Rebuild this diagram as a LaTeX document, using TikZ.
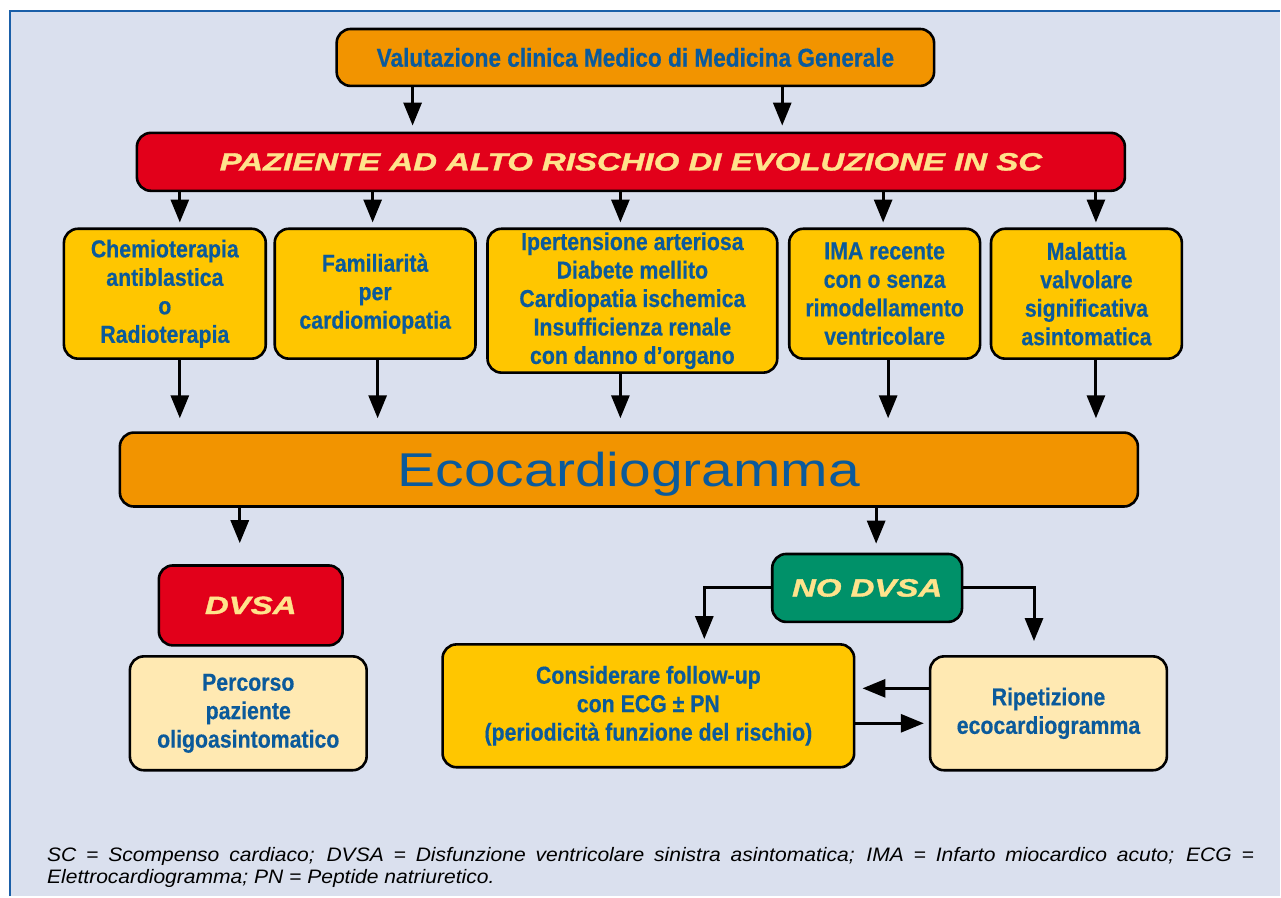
\documentclass[tikz,border=0pt]{standalone}
\usepackage{fontspec}
\setmainfont{Liberation Sans}
\newfontfamily\condfont[FakeStretch=0.87, FakeBold=0.4]{Liberation Sans}
\newfontfamily\widefont[FakeStretch=1.32, FakeBold=1.4]{Liberation Sans}
\newfontfamily\ecofont[FakeStretch=1.2]{Liberation Sans}
\newfontfamily\notefont[FakeStretch=1.08]{Liberation Sans}
\usetikzlibrary{arrows.meta}

\definecolor{bgblue}{HTML}{DAE0EE}
\definecolor{frameblue}{HTML}{1A5FA8}
\definecolor{boxorange}{HTML}{F29400}
\definecolor{boxyellow}{HTML}{FFC600}
\definecolor{boxpale}{HTML}{FFE9B2}
\definecolor{boxred}{HTML}{E2001A}
\definecolor{boxgreen}{HTML}{009169}
\definecolor{txtblue}{HTML}{0B5A9B}
\definecolor{txtyel}{HTML}{FFE38C}

\begin{document}
\begin{tikzpicture}[x=1pt, y=-1pt,
  box/.style={draw=black, line width=2.6pt, rounded corners=14pt, inner sep=0pt,
    align=center, text=txtblue,
    font=\condfont\bfseries\fontsize{24.5}{28.5}\selectfont},
  tagbox/.style={box, text=txtyel,
    font=\widefont\bfseries\itshape\fontsize{25}{28}\selectfont},
  arr/.style={line width=3pt, -{Triangle[width=18pt,length=23pt]}},
  note/.style={inner sep=0pt, align=left,
    font=\notefont\itshape\fontsize{19.5}{22}\selectfont}]

% page and panel
\fill[white] (0,0) rectangle (1281,897);
\fill[bgblue] (10,11) rectangle (1281,897);
\draw[frameblue, line width=2.5pt] (10,897) -- (10,11) -- (1281,11);

% boxes
\node[box, fill=boxorange, minimum width=598, minimum height=57, font=\condfont\bfseries\fontsize{26}{29}\selectfont]
  (top) at (636,57.5) {Valutazione clinica Medico di Medicina Generale};
\node[tagbox, fill=boxred, minimum width=989, minimum height=58]
  (risk) at (631.5,162) {PAZIENTE AD ALTO RISCHIO DI EVOLUZIONE IN SC};

\node[box, fill=boxyellow, minimum width=202, minimum height=130]
  (b1) at (165,294) {Chemioterapia\\antiblastica\\o\\Radioterapia};
\node[box, fill=boxyellow, minimum width=201, minimum height=130]
  (b2) at (375.5,294) {Familiarità\\per\\cardiomiopatia};
\node[box, fill=boxyellow, minimum width=290, minimum height=144]
  (b3) at (633,301) {Ipertensione arteriosa\\Diabete mellito\\Cardiopatia ischemica\\Insufficienza renale\\con danno d’organo};
\node[box, fill=boxyellow, minimum width=191, minimum height=130]
  (b4) at (885.5,294) {IMA recente\\con o senza\\rimodellamento\\ventricolare};
\node[box, fill=boxyellow, minimum width=191, minimum height=130]
  (b5) at (1087.5,294) {Malattia\\valvolare\\significativa\\asintomatica};

\node[box, fill=boxorange, minimum width=1019, minimum height=74,
  text height=34pt, text depth=0pt, font=\ecofont\fontsize{47.5}{50}\selectfont]
  (eco) at (629.5,470) {Ecocardiogramma};

\node[tagbox, fill=boxred, minimum width=184, minimum height=80]
  (dvsa) at (251,606) {DVSA};
\node[box, fill=boxpale, minimum width=237, minimum height=114]
  (perc) at (248.5,714) {Percorso\\paziente\\oligoasintomatico};

\node[tagbox, fill=boxgreen, minimum width=190, minimum height=68]
  (nodvsa) at (868,588.5) {NO DVSA};
\node[box, fill=boxyellow, minimum width=412, minimum height=123]
  (cons) at (649,706.5) {Considerare follow-up\\con ECG ± PN\\(periodicità funzione del rischio)};
\node[box, fill=boxpale, minimum width=237, minimum height=114]
  (rip) at (1049.5,714) {Ripetizione\\ecocardiogramma};

% arrow columns
\coordinate (t1) at (413,0);
\coordinate (t2) at (783,0);
\coordinate (c1) at (180,0);
\coordinate (c2) at (373,0);
\coordinate (c3) at (621,0);
\coordinate (c4) at (884,0);
\coordinate (c5) at (1097,0);
\coordinate (d2) at (378,0);
\coordinate (d4) at (889,0);
\coordinate (e1) at (240,0);
\coordinate (e2) at (877,0);
\coordinate (lx) at (705,0);
\coordinate (rx) at (1035,0);
\coordinate (ya) at (0,689);
\coordinate (yb) at (0,724);

\draw[arr, shorten >=6pt] (top.south -| t1) -- (risk.north -| t1);
\draw[arr, shorten >=6pt] (top.south -| t2) -- (risk.north -| t2);

\draw[arr, shorten >=5pt] (risk.south -| c1) -- (b1.north -| c1);
\draw[arr, shorten >=5pt] (risk.south -| c2) -- (b2.north -| c2);
\draw[arr, shorten >=5pt] (risk.south -| c3) -- (b3.north -| c3);
\draw[arr, shorten >=5pt] (risk.south -| c4) -- (b4.north -| c4);
\draw[arr, shorten >=5pt] (risk.south -| c5) -- (b5.north -| c5);

\draw[arr, shorten >=13pt] (b1.south -| c1) -- (eco.north -| c1);
\draw[arr, shorten >=13pt] (b2.south -| d2) -- (eco.north -| d2);
\draw[arr, shorten >=13pt] (b3.south -| c3) -- (eco.north -| c3);
\draw[arr, shorten >=13pt] (b4.south -| d4) -- (eco.north -| d4);
\draw[arr, shorten >=13pt] (b5.south -| c5) -- (eco.north -| c5);

\draw[arr, shorten >=21pt] (eco.south -| e1) -- (dvsa.north -| e1);
\draw[arr, shorten >=9pt] (eco.south -| e2) -- (nodvsa.north -| e2);

\draw[arr, shorten >=4pt] (nodvsa.west) -| (lx |- cons.north);
\draw[arr, shorten >=14pt] (nodvsa.east) -| (rx |- rip.north);

\draw[arr, shorten >=7pt] (rip.west |- ya) -- (cons.east |- ya);
\draw[arr, shorten >=5pt] (cons.east |- yb) -- (rip.west |- yb);

% footnote
\node[note, anchor=north west] (legend) at (47,848)
  {\makebox[1208pt][s]{SC = Scompenso cardiaco; DVSA = Disfunzione ventricolare sinistra asintomatica; IMA = Infarto miocardico acuto; ECG =}\\
   Elettrocardiogramma; PN = Peptide natriuretico.};
\end{tikzpicture}
\end{document}
